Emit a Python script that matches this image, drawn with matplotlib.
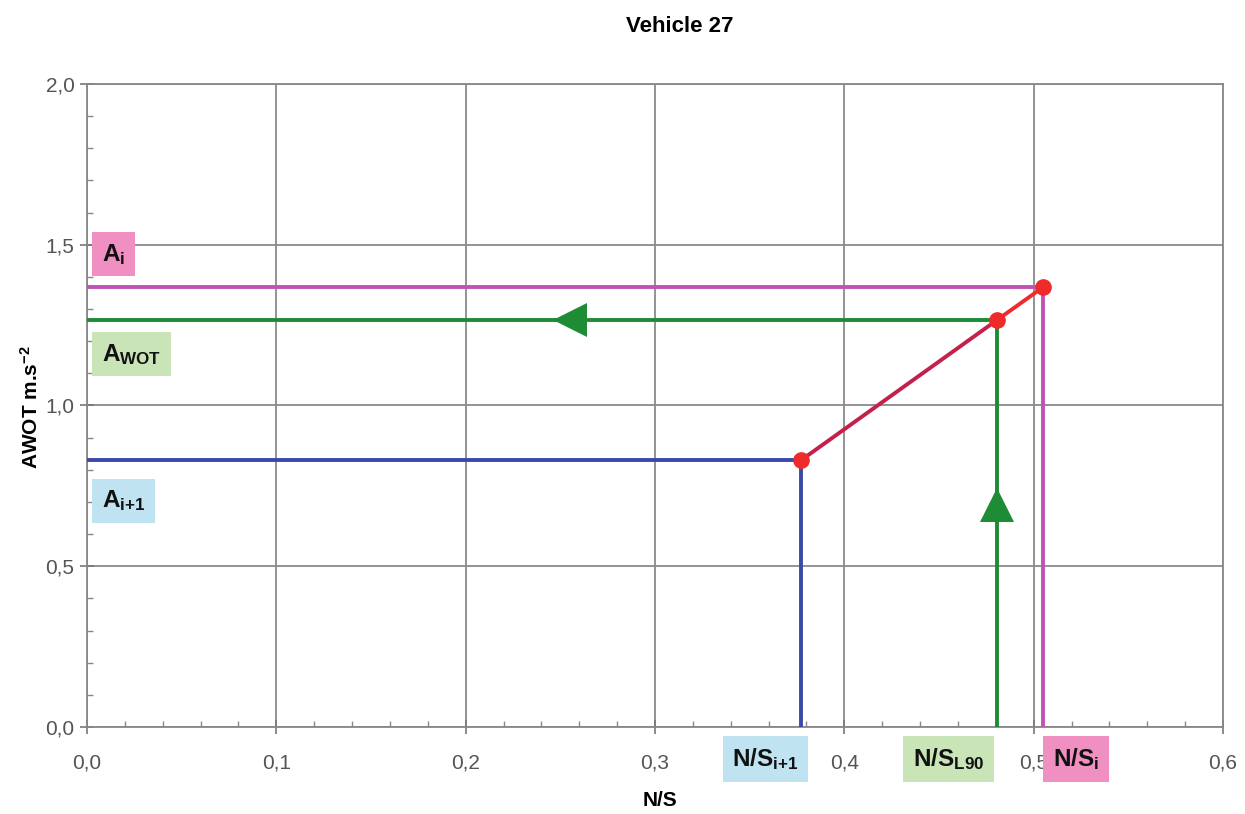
import matplotlib
matplotlib.use("Agg")
import matplotlib.pyplot as plt
from matplotlib.ticker import MultipleLocator, FuncFormatter

# Data
ns_points = [0.3772, 0.4807, 0.5050]     # N/S_{i+1}, N/S_L90, N/S_i
a_points = [0.830, 1.266, 1.368]         # A_{i+1}, A_WOT, A_i
line_colors = ["#3b4aa8", "#1e8c34", "#c052b4"]
box_colors = ["#bfe3f0", "#c9e5b8", "#f08fc2"]
y_labels = [r"$\mathbf{A_{i{+}1}}$", r"$\mathbf{A_{WOT}}$", r"$\mathbf{A_{i}}$"]
x_labels = [r"$\mathbf{N/S_{i{+}1}}$", r"$\mathbf{N/S_{L90}}$", r"$\mathbf{N/S_{i}}$"]
arrow_left = (0.255, 1.266)
arrow_up = (0.4807, 0.69)

plt.rcParams['font.family'] = ['Liberation Sans', 'DejaVu Sans']
plt.rcParams['mathtext.fontset'] = 'custom'
plt.rcParams['mathtext.bf'] = 'Liberation Sans:bold'
plt.rcParams['mathtext.rm'] = 'Liberation Sans'
plt.rcParams['mathtext.it'] = 'Liberation Sans:italic'

fig = plt.figure(figsize=(12.45, 8.14), dpi=100)
ax = fig.add_axes([0.0699, 0.1069, 0.9124, 0.7899])
ax.set_xlim(0, 0.6)
ax.set_ylim(0, 2.0)

ax.xaxis.set_major_locator(MultipleLocator(0.1))
ax.xaxis.set_minor_locator(MultipleLocator(0.02))
ax.yaxis.set_major_locator(MultipleLocator(0.5))
ax.yaxis.set_minor_locator(MultipleLocator(0.1))
ax.xaxis.set_major_formatter(FuncFormatter(lambda v, p: f"{v:.1f}".replace('.', ',')))
ax.yaxis.set_major_formatter(FuncFormatter(lambda v, p: f"{v:.1f}".replace('.', ',')))
ax.grid(True, which='major', color='#8a8a8a', lw=1.3)
ax.tick_params(which='major', direction='inout', length=10, width=1.2, color='#777777',
               labelsize=15, labelcolor='#555555')
ax.tick_params(axis='x', which='major', pad=14)
ax.tick_params(axis='y', which='major', pad=4)
ax.tick_params(which='minor', direction='in', length=4, width=1, color='#888888')
for s in ax.spines.values():
    s.set_color('#888888')
    s.set_linewidth(1.3)
ax.set_axisbelow(True)

lw = 2.8
for x, y, c in zip(ns_points, a_points, line_colors):
    ax.plot([0, x], [y, y], color=c, lw=lw, solid_capstyle='butt', zorder=3)
    ax.plot([x, x], [0, y], color=c, lw=lw, solid_capstyle='butt', zorder=3)

ax.plot(ns_points[:2], a_points[:2], color='#c4204c', lw=2.8, zorder=4)
ax.plot(ns_points[1:], a_points[1:], color='#ee2a2a', lw=2.8, zorder=4)
ax.plot(ns_points, a_points, 'o', color='#ee2a2a', ms=11, zorder=5)

ax.plot(*arrow_left, marker='<', color='#1e8c34', ms=24, zorder=6, markeredgewidth=0)
ax.plot(*arrow_up, marker='^', color='#1e8c34', ms=24, zorder=6, markeredgewidth=0)

# Y-side labels
y_label_pos = [0.703, 1.160, 1.471]
for (lab, yy, bc) in zip(y_labels, y_label_pos, box_colors):
    ax.text(0.008, yy, lab, fontsize=17.5, ha='left', va='center', color='#111111', zorder=7,
            bbox=dict(boxstyle='square,pad=0.4', fc=bc, ec='none'))

# X-side labels
x_label_pos = [0.3584, 0.4550, 0.5225]
for lab, xx, bc in zip(x_labels, x_label_pos, box_colors):
    ax.text(xx, -0.0995, lab, fontsize=17.5, ha='center', va='center', color='#111111',
            transform=ax.transData, clip_on=False, zorder=7,
            bbox=dict(boxstyle='square,pad=0.4', fc=bc, ec='none'))

fig.text(0.546, 0.968, "Vehicle 27", ha='center', va='center', fontsize=16, fontweight='bold')
fig.text(0.530, 0.017, "N/S", ha='center', va='center', fontsize=15, fontweight='bold')
fig.text(0.025, 0.50, r"AWOT m.s$^{\mathbf{-2}}$", ha='center', va='center', fontsize=15,
         fontweight='bold', rotation=90)

fig.savefig("out.png", dpi=100)
